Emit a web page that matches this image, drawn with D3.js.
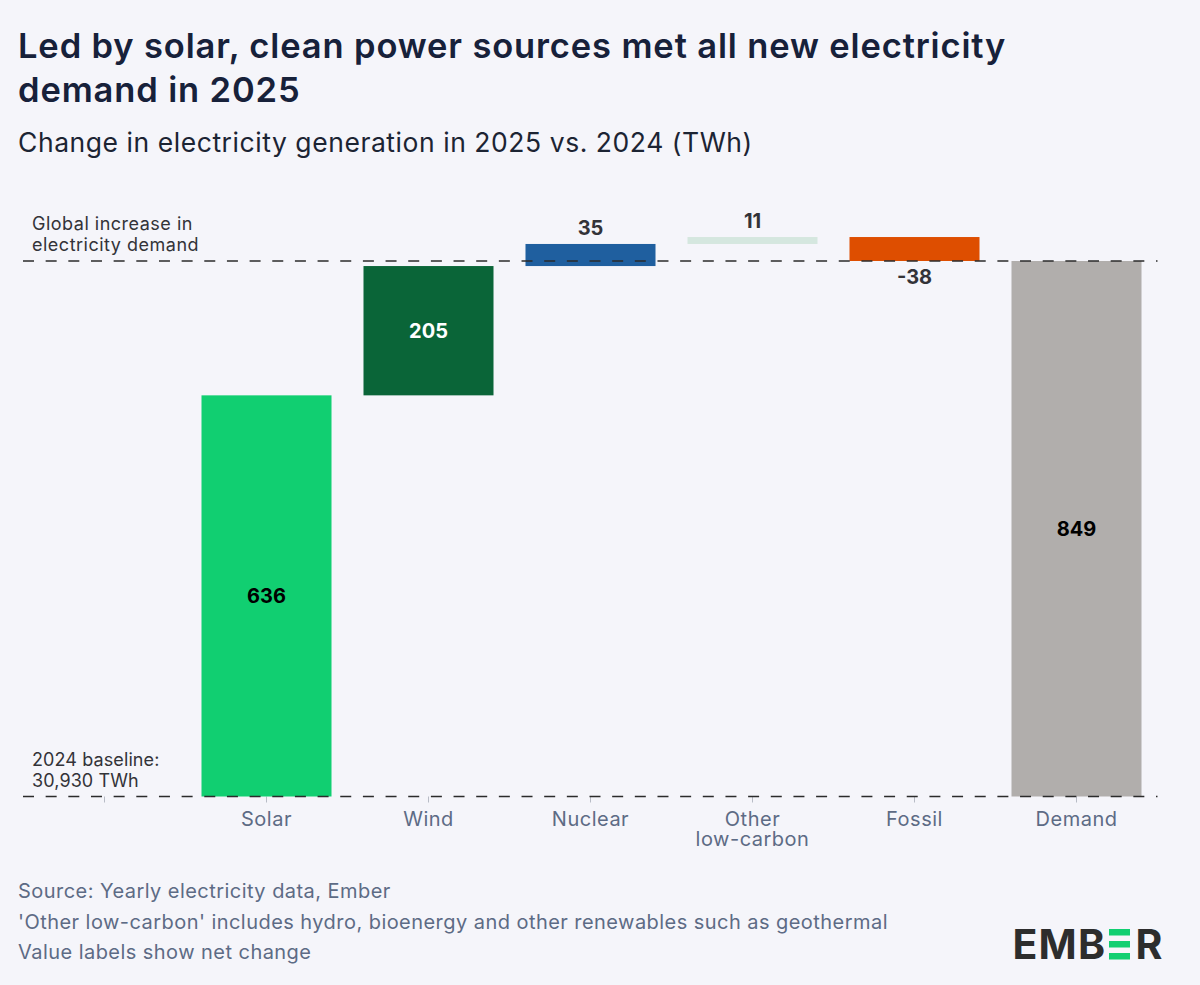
<!DOCTYPE html>
<html lang="en">
<head>
<meta charset="utf-8">
<title>Change in electricity generation</title>
<script src="https://cdn.jsdelivr.net/npm/d3@7"></script>
<style>
  html, body { margin: 0; padding: 0; background: #f5f5fa; }
  svg { display: block; }
  text { font-family: Inter, "Open Sans", sans-serif; }
</style>
</head>
<body>
<div id="chart"></div>
<script>
// data (TWh)
var categories = ["Solar", "Wind", "Nuclear", "Other low-carbon", "Fossil", "Demand"];
var changes = [636, 205, 35, 11, -38];
var demand = 849;
var colours = ["#11cf71", "#0a6538", "#1f5f9f", "#d5e7df", "#de4e00", "#b1aeac"];

var titleLines = ["Led by solar, clean power sources met all new electricity", "demand in 2025"];
var subtitle = "Change in electricity generation in 2025 vs. 2024 (TWh)";
var notes = ["Source: Yearly electricity data, Ember",
  "'Other low-carbon' includes hydro, bioenergy and other renewables such as geothermal",
  "Value labels show net change"];

var w = 1200, h = 985;

var svg = d3.select("#chart").append("svg")
  .attr("width", w)
  .attr("height", h);

svg.append("rect").attr("width", w).attr("height", h).attr("fill", "#f5f5fa");

// the first band stays empty, it only carries a tick
var x = d3.scaleBand()
  .domain([""].concat(categories))
  .range([23.5, 1157.5])
  .paddingInner(0.1975)
  .paddingOuter(0.09875);

var y = d3.scaleLinear()
  .domain([0, demand])
  .range([796.5, 261]);

// running total for the waterfall
var bars = [];
var total = 0;
changes.forEach(function(d, i) {
  bars.push({ name: categories[i], value: d, from: total, to: total + d });
  total += d;
});
bars.push({ name: "Demand", value: demand, from: 0, to: demand });

var colour = d3.scaleOrdinal().domain(categories).range(colours);

// titles
svg.selectAll("text.title")
  .data(titleLines)
  .enter()
  .append("text")
  .attr("class", "title")
  .attr("x", 18)
  .attr("y", function(d, i) { return 58 + i * 44; })
  .attr("font-size", "34.5px")
  .attr("font-weight", 600)
  .attr("letter-spacing", "0.86px")
  .attr("fill", "#17213a")
  .text(function(d) { return d; });

svg.append("text")
  .attr("x", 18)
  .attr("y", 152)
  .attr("font-size", "26.5px")
  .attr("letter-spacing", "0.55px")
  .attr("fill", "#1c2433")
  .text(subtitle);

// axis with small ticks
var axis = svg.append("g")
  .attr("transform", "translate(0,796.5)")
  .call(d3.axisBottom(x).tickSize(6).tickPadding(0).tickFormat(""));
axis.select(".domain").remove();
axis.selectAll(".tick line").attr("stroke", "#b8bcc6");

// category labels, "Other low-carbon" goes on two lines
var labels = svg.selectAll("text.cat")
  .data(categories)
  .enter()
  .append("text")
  .attr("class", "cat")
  .attr("text-anchor", "middle")
  .attr("font-size", "20px")
  .attr("letter-spacing", "0.5px")
  .attr("fill", "#5d6b85");

labels.each(function(d) {
  var cx = x(d) + x.bandwidth() / 2;
  var parts = d === "Other low-carbon" ? ["Other", "low-carbon"] : [d];
  d3.select(this).selectAll("tspan")
    .data(parts)
    .enter()
    .append("tspan")
    .attr("x", cx)
    .attr("y", function(p, i) { return 826 + i * 20; })
    .text(function(p) { return p; });
});

// bars
svg.selectAll("rect.bar")
  .data(bars)
  .enter()
  .append("rect")
  .attr("class", "bar")
  .attr("x", function(d) { return x(d.name); })
  .attr("y", function(d) { return y(Math.max(d.from, d.to)); })
  .attr("width", x.bandwidth())
  .attr("height", function(d) { return Math.abs(y(d.from) - y(d.to)); })
  .attr("fill", function(d) { return colour(d.name); });

// value labels: big bars inside, small ones above, negative below
svg.selectAll("text.value")
  .data(bars)
  .enter()
  .append("text")
  .attr("class", "value")
  .attr("x", function(d) { return x(d.name) + x.bandwidth() / 2; })
  .attr("y", function(d) {
    if (Math.abs(d.value) > 100) return (y(d.from) + y(d.to)) / 2 + 7;
    if (d.value < 0) return y(d.to) + 23;
    return y(d.to) - 9;
  })
  .attr("text-anchor", "middle")
  .attr("font-size", "20px")
  .attr("font-weight", 700)
  .attr("fill", function(d) {
    if (d.name === "Wind") return "#ffffff";
    return Math.abs(d.value) > 100 ? "#000000" : "#333338";
  })
  .text(function(d) { return d.value; });

// dashed reference lines, drawn over the bars
var refLines = svg.selectAll("line.ref")
  .data([0, demand])
  .enter()
  .append("line")
  .attr("class", "ref")
  .attr("x1", 23)
  .attr("x2", 1157.5)
  .attr("y1", function(d) { return y(d); })
  .attr("y2", function(d) { return y(d); })
  .attr("stroke", "#2b2b2b")
  .attr("stroke-width", 1.3)
  .attr("stroke-dasharray", "11,11.66");

// annotations
var annotations = [["Global increase in", "electricity demand"], ["2024 baseline:", "30,930 TWh"]];
svg.selectAll("text.note")
  .data(annotations)
  .enter()
  .append("text")
  .attr("class", "note")
  .attr("font-size", "18px")
  .attr("letter-spacing", function(d, i) { return i === 0 ? "0.5px" : "0.1px"; })
  .attr("fill", "#333338")
  .each(function(d, i) {
    var base = i === 0 ? y(demand) - 31 : y(0) - 31;
    d3.select(this).selectAll("tspan")
      .data(d)
      .enter()
      .append("tspan")
      .attr("x", 32)
      .attr("y", function(p, j) { return base + j * 21; })
      .text(function(p) { return p; });
  });

// footer
svg.selectAll("text.foot")
  .data(notes)
  .enter()
  .append("text")
  .attr("class", "foot")
  .attr("x", 18)
  .attr("y", function(d, i) { return 898 + i * 30.5; })
  .attr("font-size", "20px")
  .attr("letter-spacing", "0.45px")
  .attr("fill", "#5d6b85")
  .text(function(d) { return d; });

// logo, the second E is three green strokes
var logo = svg.append("g").attr("font-size", "41px").attr("font-weight", 700).attr("fill", "#2d2d2d");
logo.append("text").attr("x", 1012.5).attr("y", 959).attr("letter-spacing", "1.2px").text("EMB");
logo.append("text").attr("x", 1135.5).attr("y", 959).text("R");
logo.selectAll("rect")
  .data([0, 1, 2])
  .enter()
  .append("rect")
  .attr("x", 1109)
  .attr("y", function(d) { return 929 + d * 12; })
  .attr("width", 21)
  .attr("height", 6.5)
  .attr("fill", "#11cf71");
</script>
</body>
</html>
